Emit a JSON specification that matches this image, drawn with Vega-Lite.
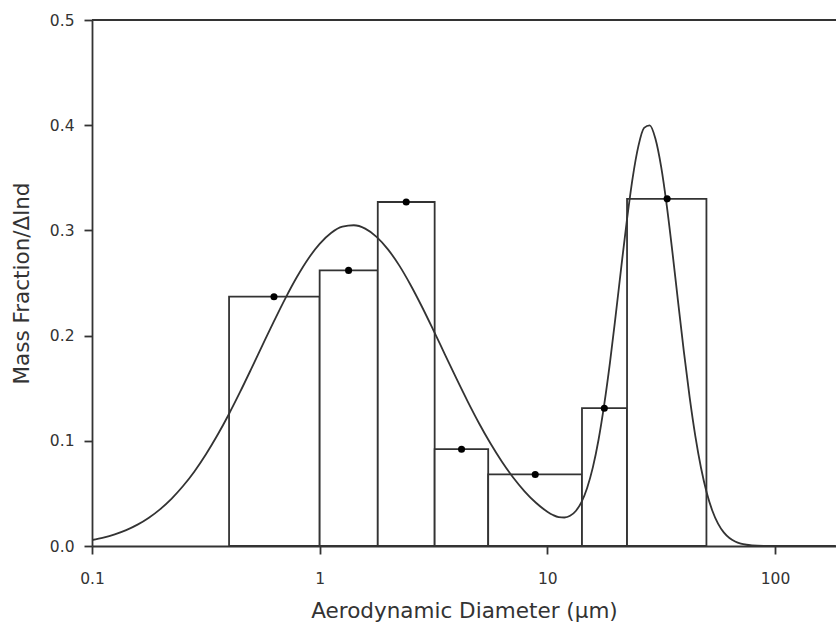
{
  "$schema": "https://vega.github.io/schema/vega-lite/v6.json",
  "width": 744,
  "height": 526,
  "autosize": {"type": "none"},
  "padding": {"left": 92, "top": 20, "right": 0, "bottom": 80},
  "background": "white",
  "config": {
    "view": {"stroke": null},
    "font": "DejaVu Sans",
    "axis": {
      "domainColor": "#333",
      "domainWidth": 1.8,
      "tickColor": "#333",
      "tickWidth": 1.8,
      "tickSize": 8,
      "labelColor": "#333",
      "labelFont": "DejaVu Sans",
      "labelFontSize": 15.5,
      "titleColor": "#333",
      "titleFont": "DejaVu Sans",
      "titleFontSize": 21.5,
      "titleFontWeight": "normal",
      "grid": false
    }
  },
  "datasets": {
    "bars": [
      {"lo": 0.4, "hi": 1.0, "frac": 0.237, "mid": 0.63},
      {"lo": 1.0, "hi": 1.8, "frac": 0.262, "mid": 1.34},
      {"lo": 1.8, "hi": 3.2, "frac": 0.327, "mid": 2.4},
      {"lo": 3.2, "hi": 5.5, "frac": 0.092, "mid": 4.2},
      {"lo": 5.5, "hi": 14.2, "frac": 0.068, "mid": 8.85},
      {"lo": 14.2, "hi": 22.4, "frac": 0.131, "mid": 17.8},
      {"lo": 22.4, "hi": 50, "frac": 0.33, "mid": 33.6}
    ],
    "curve": [
      {"d": 0.1, "f": 0.0057}, {"d": 0.1122, "f": 0.0080}, {"d": 0.1259, "f": 0.0111},
      {"d": 0.1413, "f": 0.0151}, {"d": 0.1585, "f": 0.0203}, {"d": 0.1778, "f": 0.0269},
      {"d": 0.1995, "f": 0.0351}, {"d": 0.2239, "f": 0.0451}, {"d": 0.2512, "f": 0.0570},
      {"d": 0.2818, "f": 0.0709}, {"d": 0.3162, "f": 0.0870}, {"d": 0.3548, "f": 0.1050},
      {"d": 0.3981, "f": 0.1248}, {"d": 0.4467, "f": 0.1462}, {"d": 0.5012, "f": 0.1686},
      {"d": 0.5623, "f": 0.1914}, {"d": 0.631, "f": 0.2140}, {"d": 0.7079, "f": 0.2357},
      {"d": 0.7943, "f": 0.2557}, {"d": 0.8913, "f": 0.2731}, {"d": 1.0, "f": 0.2872},
      {"d": 1.122, "f": 0.2975}, {"d": 1.259, "f": 0.3035}, {"d": 1.413, "f": 0.3049},
      {"d": 1.585, "f": 0.3017}, {"d": 1.778, "f": 0.2939}, {"d": 1.995, "f": 0.2820},
      {"d": 2.239, "f": 0.2665}, {"d": 2.512, "f": 0.2479}, {"d": 2.818, "f": 0.2272},
      {"d": 3.162, "f": 0.2050}, {"d": 3.548, "f": 0.1822}, {"d": 3.981, "f": 0.1595},
      {"d": 4.467, "f": 0.1375}, {"d": 5.012, "f": 0.1167}, {"d": 5.623, "f": 0.0976},
      {"d": 6.31, "f": 0.0803}, {"d": 7.079, "f": 0.0651}, {"d": 7.943, "f": 0.0520},
      {"d": 8.913, "f": 0.0411}, {"d": 10.0, "f": 0.0326}, {"d": 10.59, "f": 0.0295},
      {"d": 11.22, "f": 0.0275}, {"d": 11.89, "f": 0.0271}, {"d": 12.59, "f": 0.0287},
      {"d": 13.34, "f": 0.0333}, {"d": 14.13, "f": 0.0418}, {"d": 14.96, "f": 0.0552},
      {"d": 15.85, "f": 0.0747}, {"d": 16.79, "f": 0.1010}, {"d": 17.78, "f": 0.1343},
      {"d": 18.84, "f": 0.1740}, {"d": 19.95, "f": 0.2185}, {"d": 21.13, "f": 0.2651},
      {"d": 22.39, "f": 0.3104}, {"d": 23.71, "f": 0.3500}, {"d": 25.12, "f": 0.3801},
      {"d": 26.61, "f": 0.3974}, {"d": 28.18, "f": 0.3998}, {"d": 29.85, "f": 0.3871},
      {"d": 31.62, "f": 0.3606}, {"d": 33.5, "f": 0.3231}, {"d": 35.48, "f": 0.2786},
      {"d": 37.58, "f": 0.2312}, {"d": 39.81, "f": 0.1845}, {"d": 42.17, "f": 0.1417},
      {"d": 44.67, "f": 0.1047}, {"d": 47.32, "f": 0.0744}, {"d": 50.12, "f": 0.0509},
      {"d": 53.09, "f": 0.0335}, {"d": 56.23, "f": 0.0212}, {"d": 59.57, "f": 0.0129},
      {"d": 63.1, "f": 0.0076}, {"d": 66.83, "f": 0.0043}, {"d": 70.79, "f": 0.0023},
      {"d": 74.99, "f": 0.0012}, {"d": 79.43, "f": 0.0006}, {"d": 89.13, "f": 0.0001},
      {"d": 100, "f": 0.0}, {"d": 185, "f": 0.0}
    ]
  },
  "layer": [
    {
      "data": {"name": "bars"},
      "mark": {"type": "rect", "fill": "white", "stroke": "#333", "strokeWidth": 1.8},
      "encoding": {
        "x": {
          "field": "lo", "type": "quantitative",
          "scale": {"type": "log", "domain": [0.1, 185.4], "nice": false},
          "axis": {
            "values": [0.1, 1, 10, 100],
            "labelExpr": "datum.value < 1 ? '0.1' : format(datum.value, 'd')",
            "title": "Aerodynamic Diameter (µm)",
            "labelPadding": 17,
            "titlePadding": 14,
            "labelFlush": false
          }
        },
        "x2": {"field": "hi"},
        "y": {
          "field": "frac", "type": "quantitative",
          "scale": {"domain": [0, 0.5], "nice": false},
          "axis": {
            "values": [0, 0.1, 0.2, 0.3, 0.4, 0.5],
            "format": ".1f",
            "title": "Mass Fraction/Δlnd",
            "labelPadding": 10,
            "titlePadding": 16,
            "labelFlush": false
          }
        },
        "y2": {"datum": 0}
      }
    },
    {
      "data": {"name": "curve"},
      "mark": {"type": "line", "color": "#333", "strokeWidth": 1.8, "interpolate": "monotone", "clip": true},
      "encoding": {
        "x": {"field": "d", "type": "quantitative"},
        "y": {"field": "f", "type": "quantitative"}
      }
    },
    {
      "data": {"name": "bars"},
      "mark": {"type": "point", "filled": true, "color": "black", "size": 50, "opacity": 1},
      "encoding": {
        "x": {"field": "mid", "type": "quantitative"},
        "y": {"field": "frac", "type": "quantitative"}
      }
    },
    {
      "data": {"values": [{}]},
      "mark": {"type": "rule", "color": "#333", "strokeWidth": 1.8},
      "encoding": {
        "y": {"datum": 0.5}
      }
    }
  ]
}
